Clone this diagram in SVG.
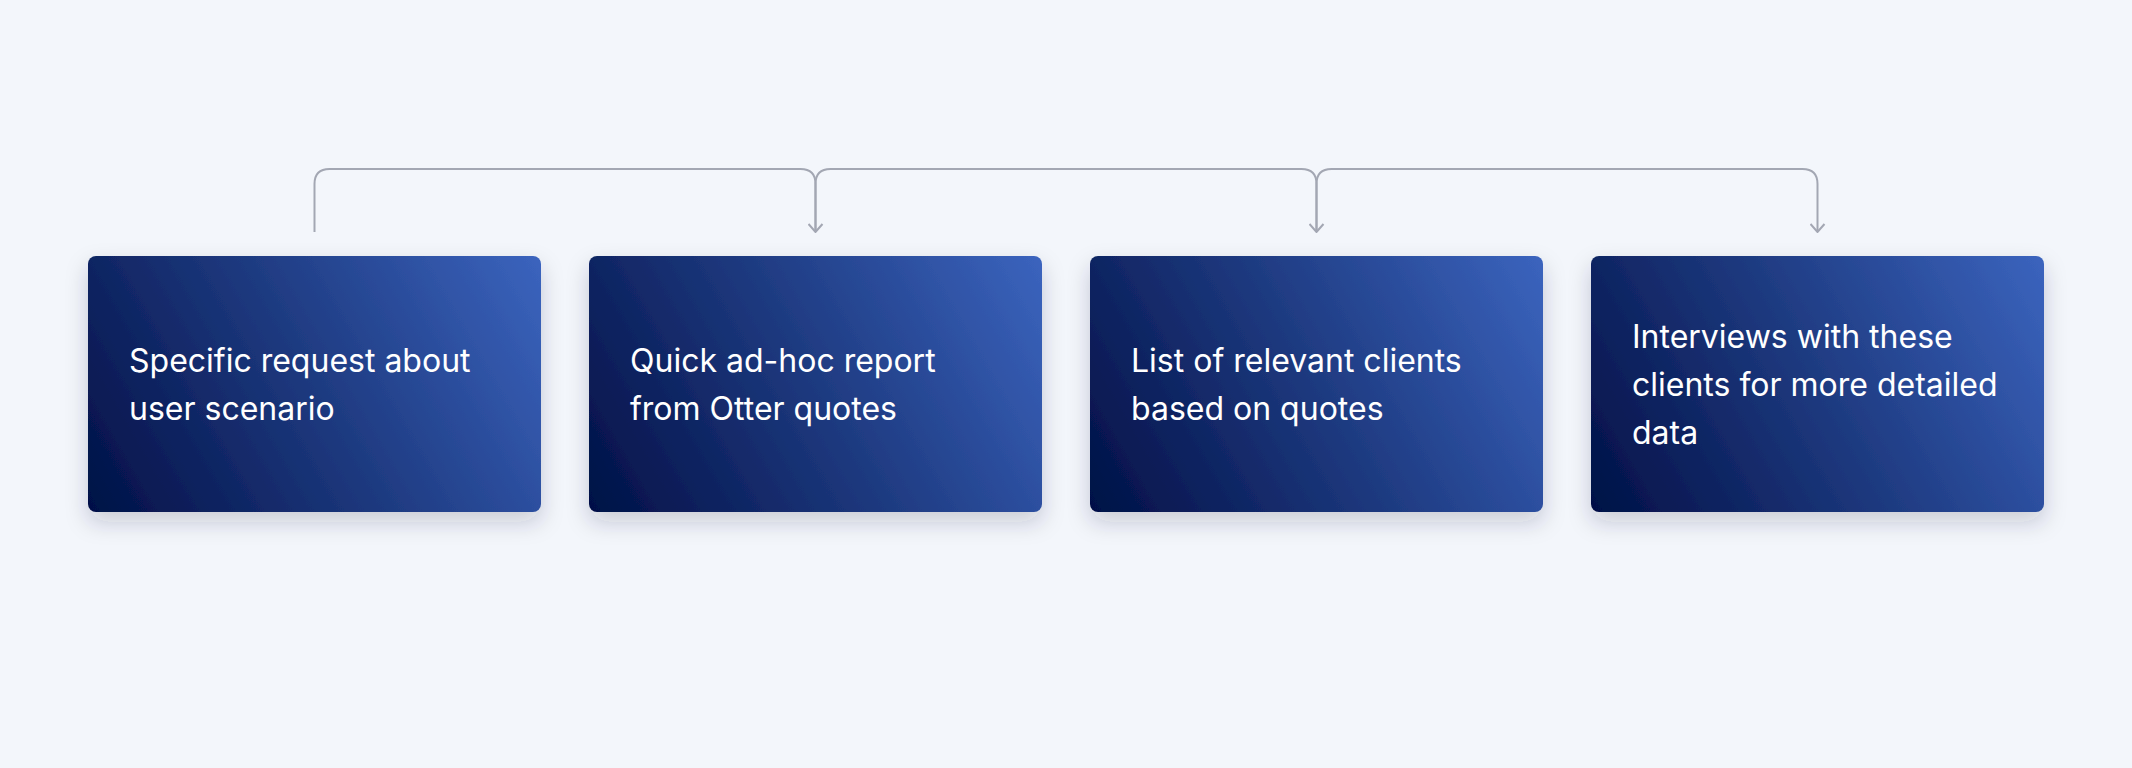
<svg xmlns="http://www.w3.org/2000/svg" width="2132" height="768" viewBox="0 0 2132 768">
  <style>
    .box { fill: url(#boxGrad); filter: url(#shadow); }
    .label { font-family: Inter, "Noto Sans", "Liberation Sans", sans-serif; font-size: 32px; fill: #ffffff; }
    .conn { fill: none; stroke: #a3a7b3; stroke-width: 2; }
  </style>
  <defs>
    <linearGradient id="boxGrad" gradientUnits="userSpaceOnUse" x1="1" y1="258" x2="452" y2="-2">
      <stop offset="0" stop-color="#011046"/>
      <stop offset="0.5" stop-color="#1e3a80"/>
      <stop offset="1" stop-color="#3b64be"/>
    </linearGradient>
    <filter id="shadow" x="-10%" y="-10%" width="120%" height="135%">
      <feDropShadow dx="0" dy="10" stdDeviation="11" flood-color="#1a2440" flood-opacity="0.2"/>
    </filter>
    <marker id="arrow" viewBox="0 0 16 10" refX="8" refY="9" markerWidth="16" markerHeight="10" markerUnits="userSpaceOnUse" orient="0">
      <path d="M1 1 L8 9 L15 1" fill="none" stroke="#a3a7b3" stroke-width="2"/>
    </marker>
  </defs>
  <rect width="2132" height="768" fill="#f3f6fb"/>

  <g id="connectors">
    <path class="conn" d="M314.5 232 V184 Q314.5 169 329.5 169 H800.5 Q815.5 169 815.5 184 V232" marker-end="url(#arrow)"/>
    <path class="conn" d="M815.5 232 V184 Q815.5 169 830.5 169 H1301.5 Q1316.5 169 1316.5 184 V232" marker-end="url(#arrow)"/>
    <path class="conn" d="M1316.5 232 V184 Q1316.5 169 1331.5 169 H1802.5 Q1817.5 169 1817.5 184 V232" marker-end="url(#arrow)"/>
  </g>

  <g id="node1" transform="translate(88 256)">
    <rect class="box" x="0" y="0" width="453" height="256" rx="8"/>
    <text class="label" x="41" y="116">Specific request about</text>
    <text class="label" x="41" y="164">user scenario</text>
  </g>
  <g id="node2" transform="translate(589 256)">
    <rect class="box" x="0" y="0" width="453" height="256" rx="8"/>
    <text class="label" x="41" y="116">Quick ad-hoc report</text>
    <text class="label" x="41" y="164">from Otter quotes</text>
  </g>
  <g id="node3" transform="translate(1090 256)">
    <rect class="box" x="0" y="0" width="453" height="256" rx="8"/>
    <text class="label" x="41" y="116">List of relevant clients</text>
    <text class="label" x="41" y="164">based on quotes</text>
  </g>
  <g id="node4" transform="translate(1591 256)">
    <rect class="box" x="0" y="0" width="453" height="256" rx="8"/>
    <text class="label" x="41" y="92">Interviews with these</text>
    <text class="label" x="41" y="140">clients for more detailed</text>
    <text class="label" x="41" y="188">data</text>
  </g>
</svg>
